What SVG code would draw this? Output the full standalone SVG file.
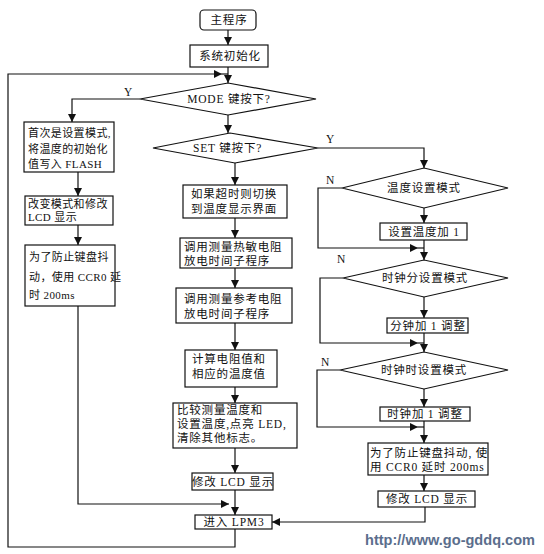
<svg xmlns="http://www.w3.org/2000/svg" width="544" height="554" viewBox="0 0 544 554">
<style>
.box{fill:#fff;stroke:#111;stroke-width:1.2}
.ln{fill:none;stroke:#111;stroke-width:1.2}
.t{font-family:"Liberation Serif","Noto Sans CJK SC",serif;font-size:11.5px;fill:#111;letter-spacing:0.8px}
.s{font-size:11px;letter-spacing:0.4px}
.c{text-anchor:middle}
.wm{font-family:"Liberation Sans","DejaVu Sans",sans-serif;font-size:15px;font-weight:bold;fill:#5b6e8c}
</style>
<defs>
<marker id="ar" viewBox="0 0 10 10" refX="10" refY="5" markerWidth="8" markerHeight="8" markerUnits="userSpaceOnUse" orient="auto">
<path d="M0,0 L10,5 L0,10 z" fill="#111"/>
</marker>
</defs>
<rect width="544" height="554" fill="#fff"/>
<g id="connectors">
<path class="ln" d="M228,30 V45" marker-end="url(#ar)"/>
<path class="ln" d="M228,67 V83" marker-end="url(#ar)"/>
<path class="ln" d="M235,529 V547 H8 V74 H222" marker-end="url(#ar)"/>
<path class="ln" d="M222,74 H228"/>
<path class="ln" d="M140,99 H72 V122" marker-end="url(#ar)"/>
<path class="ln" d="M78,172 V196" marker-end="url(#ar)"/>
<path class="ln" d="M78,225 V245" marker-end="url(#ar)"/>
<path class="ln" d="M78,306 V504 H229" marker-end="url(#ar)"/>
<path class="ln" d="M228,115 V133" marker-end="url(#ar)"/>
<path class="ln" d="M318,148 H424 V168" marker-end="url(#ar)"/>
<path class="ln" d="M235,163 V185" marker-end="url(#ar)"/>
<path class="ln" d="M235,218 V238" marker-end="url(#ar)"/>
<path class="ln" d="M235,268 V288" marker-end="url(#ar)"/>
<path class="ln" d="M235,323 V350" marker-end="url(#ar)"/>
<path class="ln" d="M235,387 V403" marker-end="url(#ar)"/>
<path class="ln" d="M235,448 V473" marker-end="url(#ar)"/>
<path class="ln" d="M235,490 V515" marker-end="url(#ar)"/>
<path class="ln" d="M342,188 H318 V248 H418" marker-end="url(#ar)"/>
<path class="ln" d="M418,248 H424"/>
<path class="ln" d="M424,208 V223" marker-end="url(#ar)"/>
<path class="ln" d="M424,240 V260" marker-end="url(#ar)"/>
<path class="ln" d="M343,278 H320 V343 H418" marker-end="url(#ar)"/>
<path class="ln" d="M418,343 H424"/>
<path class="ln" d="M424,297 V318" marker-end="url(#ar)"/>
<path class="ln" d="M424,333 V352" marker-end="url(#ar)"/>
<path class="ln" d="M340,370 H317 V427 H418" marker-end="url(#ar)"/>
<path class="ln" d="M418,427 H424"/>
<path class="ln" d="M424,389 V407" marker-end="url(#ar)"/>
<path class="ln" d="M424,421 V443" marker-end="url(#ar)"/>
<path class="ln" d="M424,475 V491" marker-end="url(#ar)"/>
<path class="ln" d="M425,507 V522 H272" marker-end="url(#ar)"/>
<text class="t" x="124" y="96">Y</text>
<text class="t" x="326" y="143">Y</text>
<text class="t" x="326" y="184">N</text>
<text class="t" x="337" y="263">N</text>
<text class="t" x="321" y="366">N</text>
</g>
<g id="start"><rect class="box" x="200" y="10" width="56" height="20" rx="4"/><text class="t c" x="229" y="24">主程序</text></g>
<g id="init"><rect class="box" x="190" y="45" width="78" height="22"/><text class="t c" x="230" y="60">系统初始化</text></g>
<g id="mode"><polygon class="box" points="140,99 228,83 316,99 228,115"/><text class="t c" x="229" y="103">MODE 键按下?</text></g>
<g id="l1"><rect class="box" x="24" y="122" width="90" height="50"/>
<text class="t s" x="28" y="137">首次是设置模式,</text><text class="t s" x="28" y="153">将温度的初始化</text><text class="t s" x="28" y="168">值写入 FLASH</text></g>
<g id="l2"><rect class="box" x="25" y="196" width="88" height="29"/>
<text class="t s" x="28" y="208">改变模式和修改</text><text class="t s" x="28" y="221">LCD 显示</text></g>
<g id="l3"><rect class="box" x="25" y="245" width="90" height="61"/>
<text class="t s" x="29" y="261">为了防止键盘抖</text><text class="t s" x="29" y="281">动，使用 CCR0 延</text><text class="t s" x="29" y="299">时 200ms</text></g>
<g id="set"><polygon class="box" points="153,148 230,133 318,148 235,163"/><text class="t" x="193" y="152">SET 键按下?</text></g>
<g id="m1"><rect class="box" x="183" y="185" width="104" height="33"/>
<text class="t" x="191" y="198">如果超时则切换</text><text class="t" x="191" y="213">到温度显示界面</text></g>
<g id="m2"><rect class="box" x="180" y="238" width="112" height="30"/>
<text class="t" x="184" y="251">调用测量热敏电阻</text><text class="t" x="184" y="265">放电时间子程序</text></g>
<g id="m3"><rect class="box" x="176" y="288" width="116" height="35"/>
<text class="t" x="184" y="303">调用测量参考电阻</text><text class="t" x="184" y="318">放电时间子程序</text></g>
<g id="m4"><rect class="box" x="185" y="350" width="92" height="37"/>
<text class="t" x="192" y="363">计算电阻值和</text><text class="t" x="192" y="378">相应的温度值</text></g>
<g id="m5"><rect class="box" x="173" y="403" width="124" height="45"/>
<text class="t" x="177" y="414">比较测量温度和</text><text class="t" x="177" y="428">设置温度,点亮 LED,</text><text class="t" x="177" y="442">清除其他标志。</text></g>
<g id="m6"><rect class="box" x="192" y="473" width="81" height="17"/><text class="t c" x="233" y="486">修改 LCD 显示</text></g>
<g id="lpm3"><rect class="box" x="195" y="515" width="77" height="14"/><text class="t c" x="234" y="526">进入 LPM3</text></g>
<g id="r1"><polygon class="box" points="342,188 424,168 508,188 424,208"/><text class="t c" x="424" y="192">温度设置模式</text></g>
<g id="r2"><rect class="box" x="380" y="223" width="87" height="17"/><text class="t c" x="424" y="236">设置温度加 1</text></g>
<g id="r3"><polygon class="box" points="343,278 424,260 508,278 424,297"/><text class="t c" x="425" y="282">时钟分设置模式</text></g>
<g id="r4"><rect class="box" x="387" y="318" width="81" height="15"/><text class="t c" x="428" y="330">分钟加 1 调整</text></g>
<g id="r5"><polygon class="box" points="340,370 424,352 508,370 424,389"/><text class="t c" x="424" y="374">时钟时设置模式</text></g>
<g id="r6"><rect class="box" x="380" y="407" width="90" height="14"/><text class="t c" x="425" y="418">时钟加 1 调整</text></g>
<g id="r7"><rect class="box" x="368" y="443" width="120" height="32"/>
<text class="t" x="370" y="457">为了防止键盘抖动, 使</text><text class="t" x="370" y="471">用 CCR0 延时 200ms</text></g>
<g id="r8"><rect class="box" x="378" y="491" width="97" height="16"/><text class="t c" x="427" y="503">修改 LCD 显示</text></g>
<text class="wm" x="365" y="545" textLength="170" lengthAdjust="spacingAndGlyphs">http://www.go-gddq.com</text>
</svg>
